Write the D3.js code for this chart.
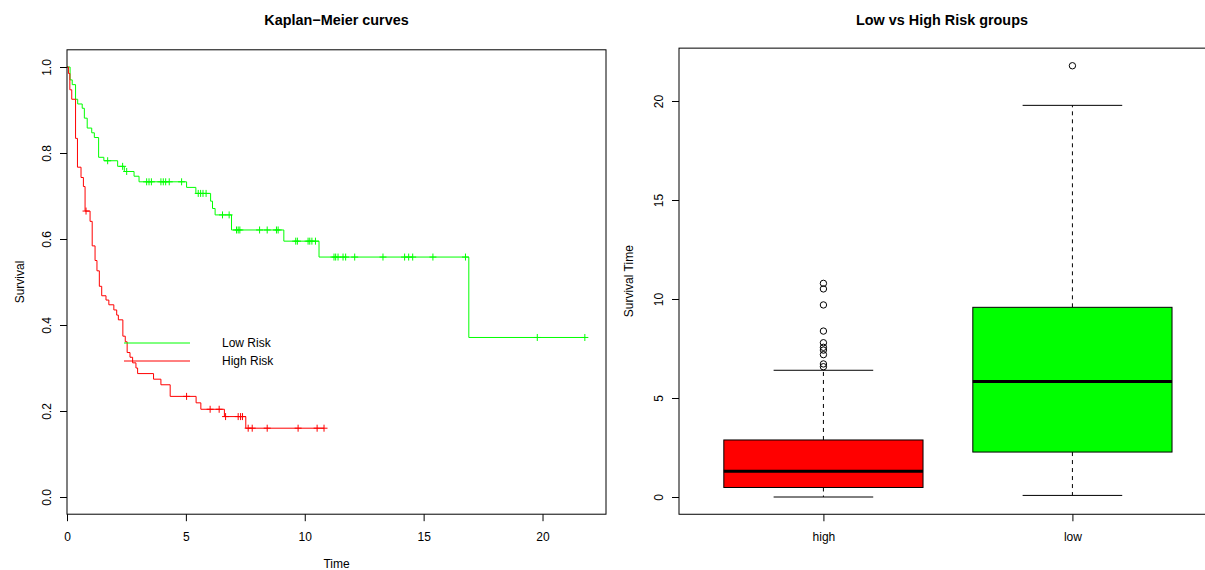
<!DOCTYPE html>
<html>
<head>
<meta charset="utf-8">
<script src="https://cdn.jsdelivr.net/npm/d3@7"></script>
<style>
  html, body { margin: 0; padding: 0; background: #fff; }
  svg { display: block; font-family: "Liberation Sans", Arial, Helvetica, sans-serif; }
</style>
</head>
<body>
<svg id="chart" width="1205" height="570"></svg>
<script>
// ---------------- DATA ----------------
// Kaplan-Meier: Low Risk group (event times and survival after each drop)
const lowEventTimes = [0.13, 0.22, 0.36, 0.45, 0.64, 0.73, 0.85, 1.04, 1.15, 1.33, 1.55, 2.13, 2.41, 2.82, 3.03, 5.03, 5.42, 6.04, 6.12, 6.23, 6.92, 9.12, 10.6, 16.9];
const lowEventSurv  = [0.970, 0.959, 0.925, 0.914, 0.904, 0.881, 0.858, 0.847, 0.836, 0.790, 0.782, 0.769, 0.757, 0.746, 0.733, 0.720, 0.706, 0.688, 0.671, 0.656, 0.621, 0.595, 0.558, 0.371];
const lowCensorTimes = [1.71, 2.34, 2.51, 3.35, 3.45, 3.55, 3.95, 4.05, 4.15, 4.3, 4.82, 5.52, 5.62, 5.72, 5.85, 6.54, 6.82, 7.13, 7.2, 7.27, 8.1, 8.42, 8.81, 8.88, 9.62, 9.69, 10.14, 10.21, 10.3, 10.45, 11.23, 11.3, 11.4, 11.61, 11.72, 12.1, 13.29, 14.2, 14.37, 14.54, 15.39, 16.76, 19.78, 21.78];

// Kaplan-Meier: High Risk group
const highEventTimes = [0.06, 0.12, 0.2, 0.36, 0.44, 0.59, 0.69, 0.76, 0.97, 1.06, 1.18, 1.26, 1.36, 1.46, 1.64, 1.76, 1.97, 2.09, 2.16, 2.35, 2.45, 2.53, 2.65, 2.76, 2.9, 2.97, 3.64, 3.95, 4.34, 5.43, 5.63, 6.62, 7.52];
const highEventSurv  = [0.985, 0.947, 0.925, 0.834, 0.767, 0.743, 0.722, 0.665, 0.641, 0.584, 0.550, 0.526, 0.490, 0.468, 0.458, 0.447, 0.435, 0.423, 0.412, 0.374, 0.361, 0.336, 0.325, 0.312, 0.300, 0.287, 0.274, 0.261, 0.234, 0.219, 0.204, 0.187, 0.160];
const highCensorTimes = [0.8, 5.03, 6.02, 6.4, 6.67, 7.2, 7.3, 7.38, 7.62, 7.79, 8.42, 9.72, 10.52, 10.81];

const kmXTicks = [0, 5, 10, 15, 20];
const kmYTicks = [0.0, 0.2, 0.4, 0.6, 0.8, 1.0];
const legendLabels = ["Low Risk", "High Risk"];

// Boxplot: groups and five-number summaries
const boxGroups = ["high", "low"];
const boxWhiskerLow = [0.0, 0.08];
const boxQ1 = [0.48, 2.27];
const boxMedian = [1.30, 5.83];
const boxQ3 = [2.88, 9.58];
const boxWhiskerHigh = [6.40, 19.78];
const boxOutliersHigh = [10.79, 10.51, 9.70, 8.38, 7.79, 7.56, 7.42, 7.19, 6.72, 6.58];
const boxOutliersLow = [21.78];
const boxYTicks = [0, 5, 10, 15, 20];

// ---------------- DRAWING ----------------
const svg = d3.select("#chart");
const FS = 12;
const green = "#00FF00", red = "#FF0000";

// ===== Left panel: Kaplan-Meier =====
const kx = d3.scaleLinear().domain([0, 22.67]).range([67, 606]);
const ky = d3.scaleLinear().domain([0, 1]).range([497, 67]);
const kTop = ky(1.04), kBot = ky(-0.04);

const left = svg.append("g");

function stepCurve(times, surv, censor) {
  const lastT = Math.max(d3.max(times), d3.max(censor));
  const pts = [[0, 1]];
  times.forEach((t, i) => pts.push([t, surv[i]]));
  pts.push([lastT, surv[surv.length - 1]]);
  return pts;
}
function survAt(times, surv, t) {
  const i = d3.bisectRight(times, t);
  return i === 0 ? 1 : surv[i - 1];
}
const line = d3.line().x(d => kx(d[0])).y(d => ky(d[1])).curve(d3.curveStepAfter);

function drawKM(times, surv, censor, color) {
  left.append("path")
    .attr("d", line(stepCurve(times, surv, censor)))
    .attr("fill", "none").attr("stroke", color).attr("stroke-width", 1);
  const m = 3.5;
  left.append("g").selectAll("path").data(censor).join("path")
    .attr("d", t => {
      const X = kx(t), Y = ky(survAt(times, surv, t));
      return `M${X - m},${Y}H${X + m}M${X},${Y - m}V${Y + m}`;
    })
    .attr("stroke", color).attr("stroke-width", 1).attr("fill", "none");
}
drawKM(lowEventTimes, lowEventSurv, lowCensorTimes, green);
drawKM(highEventTimes, highEventSurv, highCensorTimes, red);

// box
left.append("rect").attr("x", kx(0)).attr("y", kTop)
  .attr("width", kx(22.67) - kx(0)).attr("height", kBot - kTop)
  .attr("fill", "none").attr("stroke", "#000").attr("stroke-width", 1);

// x axis
const kxAxis = left.append("g").attr("transform", `translate(0,${kBot})`)
  .call(d3.axisBottom(kx).tickValues(kmXTicks).tickSize(7).tickPadding(11).tickFormat(d3.format("d")));
kxAxis.select(".domain").remove();
kxAxis.selectAll("text").attr("font-size", FS).attr("font-family", null).attr("fill", "#000");
kxAxis.selectAll("line").attr("stroke", "#000");

// y axis
const kyAxis = left.append("g").attr("transform", `translate(${kx(0)},0)`)
  .call(d3.axisLeft(ky).tickValues(kmYTicks).tickSize(7).tickFormat(d3.format(".1f")));
kyAxis.select(".domain").remove();
kyAxis.selectAll("line").attr("stroke", "#000");
kyAxis.selectAll("text").attr("x", null).attr("dy", null).attr("font-size", FS).attr("fill", "#000")
  .attr("text-anchor", "middle").attr("transform", "translate(-16,0) rotate(-90)");

// titles
left.append("text").attr("x", (kx(0) + kx(22.67)) / 2).attr("y", 25)
  .attr("text-anchor", "middle").attr("font-weight", "bold").attr("font-size", 14.4).text("Kaplan\u2212Meier curves");
left.append("text").attr("x", (kx(0) + kx(22.67)) / 2).attr("y", 568)
  .attr("text-anchor", "middle").attr("font-size", FS).text("Time");
left.append("text").attr("transform", `translate(24,${(kTop + kBot) / 2}) rotate(-90)`)
  .attr("text-anchor", "middle").attr("font-size", FS).text("Survival");

// legend
const legY = [343, 361];
[green, red].forEach((c, i) => {
  left.append("line").attr("x1", 124).attr("x2", 190).attr("y1", legY[i]).attr("y2", legY[i])
    .attr("stroke", c).attr("stroke-width", 1);
  left.append("text").attr("x", 222).attr("y", legY[i]).attr("dy", "0.35em")
    .attr("font-size", FS).text(legendLabels[i]);
});

// ===== Right panel: Boxplot =====
const bx = d3.scaleLinear().domain([0.42, 2.58]).range([679, 679 + 2.16 * 249]);
const by = d3.scaleLinear().domain([0, 20]).range([497, 101]);
const bTop = by(22.67), bBot = by(-0.872);
const right = svg.append("g");

const fills = [red, green];
const outliers = [boxOutliersHigh, boxOutliersLow];
boxGroups.forEach((g, i) => {
  const cx = bx(i + 1);
  const hw = bx(1.4) - bx(1);   // half box width (0.4)
  const sw = bx(1.2) - bx(1);   // half staple width (0.2)
  // whiskers
  right.append("line").attr("x1", cx).attr("x2", cx).attr("y1", by(boxQ3[i])).attr("y2", by(boxWhiskerHigh[i]))
    .attr("stroke", "#000").attr("stroke-dasharray", "4,4");
  right.append("line").attr("x1", cx).attr("x2", cx).attr("y1", by(boxQ1[i])).attr("y2", by(boxWhiskerLow[i]))
    .attr("stroke", "#000").attr("stroke-dasharray", "4,4");
  // staples
  [boxWhiskerHigh[i], boxWhiskerLow[i]].forEach(v => {
    right.append("line").attr("x1", cx - sw).attr("x2", cx + sw).attr("y1", by(v)).attr("y2", by(v))
      .attr("stroke", "#000");
  });
  // box
  right.append("rect").attr("x", cx - hw).attr("width", 2 * hw)
    .attr("y", by(boxQ3[i])).attr("height", by(boxQ1[i]) - by(boxQ3[i]))
    .attr("fill", fills[i]).attr("stroke", "#000").attr("stroke-width", 1);
  // median
  right.append("line").attr("x1", cx - hw).attr("x2", cx + hw).attr("y1", by(boxMedian[i])).attr("y2", by(boxMedian[i]))
    .attr("stroke", "#000").attr("stroke-width", 3);
  // outliers
  right.append("g").selectAll("circle").data(outliers[i]).join("circle")
    .attr("cx", cx).attr("cy", d => by(d)).attr("r", 3.2)
    .attr("fill", "none").attr("stroke", "#000").attr("stroke-width", 1);
});

right.append("rect").attr("x", bx(0.42)).attr("y", bTop)
  .attr("width", bx(2.58) - bx(0.42)).attr("height", bBot - bTop)
  .attr("fill", "none").attr("stroke", "#000").attr("stroke-width", 1);

const bxAxis = right.append("g").attr("transform", `translate(0,${bBot})`)
  .call(d3.axisBottom(bx).tickValues([1, 2]).tickSize(7).tickPadding(11).tickFormat((d, i) => boxGroups[i]));
bxAxis.select(".domain").remove();
bxAxis.selectAll("text").attr("font-size", FS).attr("font-family", null).attr("fill", "#000");
bxAxis.selectAll("line").attr("stroke", "#000");

const byAxis = right.append("g").attr("transform", `translate(${bx(0.42)},0)`)
  .call(d3.axisLeft(by).tickValues(boxYTicks).tickSize(7).tickFormat(d3.format("d")));
byAxis.select(".domain").remove();
byAxis.selectAll("line").attr("stroke", "#000");
byAxis.selectAll("text").attr("x", null).attr("dy", null).attr("font-size", FS).attr("fill", "#000")
  .attr("text-anchor", "middle").attr("transform", "translate(-16,0) rotate(-90)");

right.append("text").attr("x", 942).attr("y", 25)
  .attr("text-anchor", "middle").attr("font-weight", "bold").attr("font-size", 14.4).text("Low vs High Risk groups");
right.append("text").attr("transform", `translate(633,${(bTop + bBot) / 2}) rotate(-90)`)
  .attr("text-anchor", "middle").attr("font-size", FS).text("Survival Time");
</script>
</body>
</html>
